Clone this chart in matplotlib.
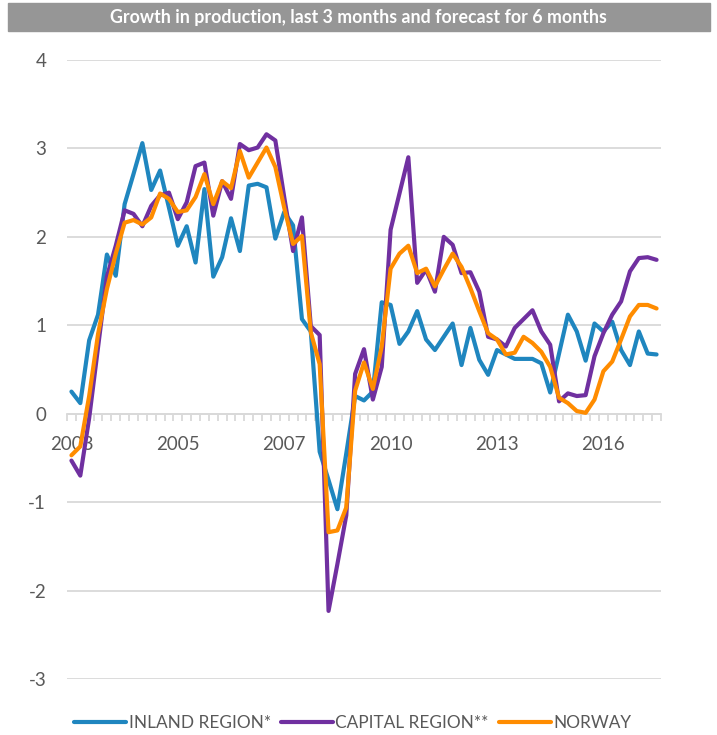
import matplotlib
matplotlib.use('Agg')
import matplotlib.pyplot as plt
from matplotlib.patches import Rectangle
from matplotlib.ticker import FixedLocator, NullFormatter

plt.rcParams['font.family'] = ['Lato', 'DejaVu Sans']
plt.rcParams['axes.unicode_minus'] = False

# x labels: one label every 12 survey rounds
tick_labels = ['2003', '2005', '2007', '2010', '2013', '2016']
label_step = 12

inland = [0.25, 0.12, 0.83, 1.12, 1.80, 1.56, 2.37, 2.71, 3.06, 2.53,
          2.75, 2.33, 1.90, 2.12, 1.71, 2.54, 1.55, 1.77, 2.21, 1.84,
          2.58, 2.60, 2.56, 1.98, 2.28, 2.13, 1.07, 0.93, -0.43, -0.75,
          -1.08, -0.45, 0.20, 0.15, 0.25, 1.26, 1.23, 0.79, 0.93, 1.16,
          0.84, 0.72, 0.87, 1.02, 0.55, 0.97, 0.61, 0.44, 0.72, 0.67,
          0.62, 0.62, 0.62, 0.57, 0.24, 0.68, 1.12, 0.93, 0.60, 1.02,
          0.93, 1.04, 0.72, 0.55, 0.93, 0.68, 0.67]

capital = [-0.53, -0.70, -0.05, 0.75, 1.55, 1.90, 2.30, 2.26, 2.12, 2.35,
           2.47, 2.50, 2.20, 2.39, 2.80, 2.84, 2.24, 2.63, 2.43, 3.05,
           2.98, 3.01, 3.16, 3.09, 2.45, 1.84, 2.22, 0.99, 0.89, -2.23,
           -1.70, -1.15, 0.45, 0.73, 0.16, 0.53, 2.08, 2.49, 2.90, 1.48,
           1.63, 1.38, 2.00, 1.91, 1.59, 1.60, 1.38, 0.87, 0.84, 0.76,
           0.97, 1.07, 1.17, 0.93, 0.78, 0.14, 0.23, 0.20, 0.21, 0.65,
           0.91, 1.12, 1.27, 1.61, 1.76, 1.77, 1.74]

norway = [-0.47, -0.37, 0.20, 0.90, 1.41, 1.81, 2.16, 2.19, 2.14, 2.22,
          2.49, 2.43, 2.28, 2.30, 2.45, 2.71, 2.37, 2.63, 2.55, 2.97,
          2.67, 2.84, 3.01, 2.79, 2.33, 1.92, 2.01, 0.92, 0.56, -1.34,
          -1.32, -1.06, 0.26, 0.58, 0.28, 0.76, 1.64, 1.81, 1.90, 1.59,
          1.64, 1.44, 1.63, 1.81, 1.66, 1.42, 1.16, 0.91, 0.84, 0.67,
          0.69, 0.87, 0.80, 0.70, 0.53, 0.18, 0.12, 0.03, 0.01, 0.16,
          0.48, 0.59, 0.84, 1.10, 1.23, 1.23, 1.19]

series = [('INLAND REGION*', inland, '#1f86bf'),
          ('CAPITAL REGION**', capital, '#7030a0'),
          ('NORWAY', norway, '#ff8c00')]

grey_text = '#595959'
grid_col = '#d9d9d9'

fig = plt.figure(figsize=(7.17, 7.35), dpi=100)
ax = fig.add_axes([67 / 717, 1 - 679 / 735, 594 / 717, 619 / 735])

n = len(inland)
x = list(range(n))
for name, vals, col in series:
    ax.plot(x, vals, color=col, lw=3.0, label=name, solid_joinstyle='round',
            solid_capstyle='round', zorder=3)

ax.set_xlim(-0.5, n - 0.5)
ax.set_ylim(-3, 4)
ax.set_yticks(range(-3, 5))
ax.yaxis.grid(True, color=grid_col, lw=1.3)
ax.set_axisbelow(True)
ax.tick_params(axis='y', length=0, pad=15, labelsize=13.5, labelcolor=grey_text)

# category axis sits on the zero line
for s in ['top', 'right', 'left']:
    ax.spines[s].set_visible(False)
ax.spines['bottom'].set_position(('data', 0))
ax.spines['bottom'].set_color(grid_col)
ax.spines['bottom'].set_linewidth(1.3)
ax.set_xticks([i * label_step for i in range(len(tick_labels))])
ax.set_xticklabels(tick_labels)
ax.xaxis.set_minor_locator(FixedLocator([i - 0.5 for i in range(n + 1)]))
ax.xaxis.set_minor_formatter(NullFormatter())
ax.tick_params(axis='x', which='major', length=0, pad=16, labelsize=13.5,
               labelcolor=grey_text)
ax.tick_params(axis='x', which='minor', length=5, width=1.3, color=grid_col,
               direction='out')

# title bar
fig.patches.append(Rectangle((8 / 717, 1 - 31 / 735), 702 / 717, 28 / 735,
                             transform=fig.transFigure, color='#969696',
                             zorder=0))
fig.text(0.5, 1 - 17 / 735, 'Growth in production, last 3 months and forecast for 6 months',
         ha='center', va='center', color='white', fontsize=12.8,
         fontweight='bold')

leg = fig.legend(loc='center', bbox_to_anchor=(0.492, 1 - 723 / 735), ncol=3,
                 frameon=False, handlelength=3.0, handletextpad=0.15,
                 columnspacing=0.6, prop={'size': 12.4},
                 labelcolor=grey_text)
for h in leg.get_lines():
    h.set_solid_capstyle('round')

fig.savefig('out.png', dpi=100)
